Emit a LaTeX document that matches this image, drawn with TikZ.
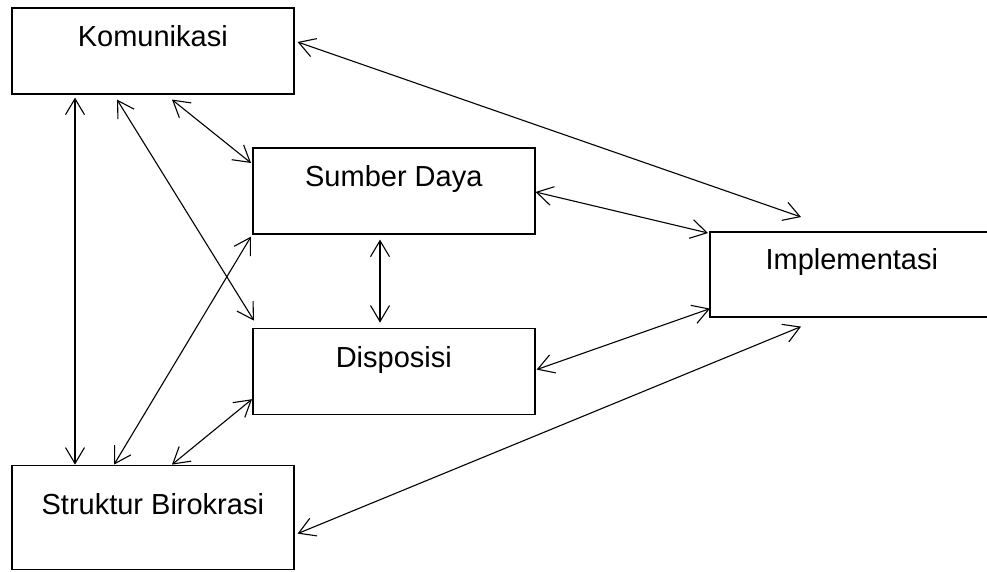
\documentclass[tikz,border=0pt]{standalone}
\usepackage{fontspec}
\setmainfont{Liberation Sans}
\usetikzlibrary{positioning,arrows.meta}
\tikzset{% 
  box/.style = {
    shape=rectangle, draw, line width=1.6pt,
    minimum width=282pt, inner sep=0pt,
    text height=39pt, text depth=47pt,
    font=\fontsize{29}{34}\selectfont
  },
  link/.style = {draw, line width=1.1pt,
    {Straight Barb[length=16pt,width=19pt]}-{Straight Barb[length=16pt,width=19pt]}}
}

\begin{document}
\begin{tikzpicture}[x=1pt,y=-1pt]
  \useasboundingbox (0,0) rectangle (987,571);
  \node[box, anchor=north west] (kom) at (11,7) {Komunikasi};
  \node[box, anchor=north west] (sum) at (252,147) {Sumber Daya};
  \node[box, below=93pt of sum] (dis) {Disposisi};
  \node[box, anchor=north west, minimum width=284pt, text height=38pt] (imp) at (709,231) {Implementasi};
  \node[box, below=370pt of kom, text height=49pt, text depth=55pt] (str) {Struktur Birokrasi};

  \draw[link] ([xshift=3pt,yshift=-35pt]kom.north east) -- ([xshift=92pt,yshift=14pt]imp.north west);
  \draw[link] ([xshift=64pt,yshift=-3pt]kom.south west) -- ([xshift=64pt]str.north west);
  \draw[link] ([xshift=106pt,yshift=-5pt]kom.south west) -- ([xshift=2pt,yshift=7pt]dis.north west);
  \draw[link] ([xshift=161pt,yshift=-5pt]kom.south west) -- ([xshift=-1pt,yshift=-16pt]sum.north west);
  \draw[link] ([yshift=-45pt]sum.north east) -- ([xshift=-1pt,yshift=-2pt]imp.north west);
  \draw[link] ([xshift=128pt,yshift=-5pt]sum.south west) -- ([xshift=128pt,yshift=5pt]dis.north west);
  \draw[link] ([xshift=103pt]str.north west) -- ([xshift=-1pt,yshift=-2pt]sum.south west);
  \draw[link] ([xshift=161pt]str.north west) -- ([yshift=16pt]dis.south west);
  \draw[link] ([xshift=1pt,yshift=-42pt]dis.north east) -- ([xshift=1pt,yshift=9pt]imp.south west);
  \draw[link] ([xshift=3pt,yshift=-69pt]str.north east) -- ([xshift=92pt,yshift=-9pt]imp.south west);
\end{tikzpicture}
\end{document}
